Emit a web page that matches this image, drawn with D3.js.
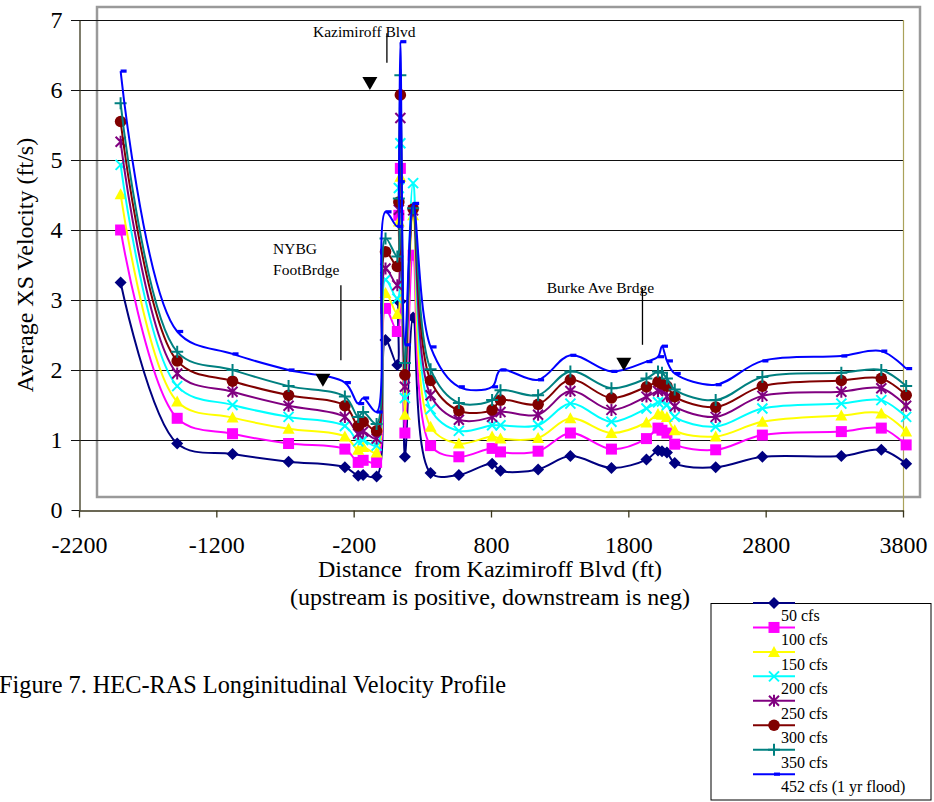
<!DOCTYPE html>
<html>
<head>
<meta charset="utf-8">
<script src="https://cdn.jsdelivr.net/npm/d3@7"></script>
<style>
  body { margin: 0; background: #fff; }
  svg { display: block; font-family: "Liberation Serif", "Times New Roman", serif; }
</style>
</head>
<body>
<svg width="934" height="802"></svg>
<script>
// river stations, ft from Kazimiroff Blvd (upstream positive)
const distance = [-1897, -1485, -1082, -674, -264, -167, -131, -33, 32, 118, 129, 140, 173, 233, 360,
  566, 808, 869, 1143, 1378, 1677, 1932, 2016, 2045, 2081, 2138, 2436, 2776, 3351, 3642, 3823];

const v50  = [3.25, 0.95, 0.80, 0.69, 0.61, 0.49, 0.50, 0.48, 2.43, 2.07, 2.98, 2.98, 0.76, 2.75, 0.53,
  0.50, 0.66, 0.56, 0.58, 0.77, 0.60, 0.72, 0.85, 0.84, 0.82, 0.67, 0.61, 0.76, 0.77, 0.86, 0.66];
const v100 = [4.00, 1.31, 1.09, 0.95, 0.87, 0.68, 0.71, 0.68, 2.88, 2.55, 4.21, 4.88, 1.10, 3.64, 0.92,
  0.76, 0.88, 0.83, 0.84, 1.10, 0.87, 1.02, 1.17, 1.14, 1.10, 0.94, 0.86, 1.07, 1.12, 1.17, 0.93];
const v150 = [4.51, 1.55, 1.32, 1.16, 1.05, 0.86, 0.90, 0.82, 3.10, 2.80, 4.12, 4.76, 1.36, 4.21, 1.19,
  0.95, 1.05, 1.02, 1.03, 1.31, 1.10, 1.25, 1.37, 1.36, 1.33, 1.14, 1.05, 1.26, 1.35, 1.38, 1.12];
const v200 = [4.93, 1.77, 1.50, 1.33, 1.20, 0.98, 1.00, 0.92, 3.29, 3.02, 4.60, 5.24, 1.60, 4.67, 1.44,
  1.13, 1.21, 1.21, 1.21, 1.52, 1.26, 1.45, 1.54, 1.55, 1.50, 1.33, 1.19, 1.45, 1.52, 1.57, 1.33];
const v250 = [5.26, 1.95, 1.69, 1.49, 1.33, 1.09, 1.12, 1.02, 3.45, 3.21, 4.29, 5.60, 1.76, 4.28, 1.64,
  1.29, 1.33, 1.40, 1.36, 1.70, 1.43, 1.62, 1.70, 1.72, 1.62, 1.48, 1.33, 1.63, 1.69, 1.74, 1.49];
const v300 = [5.55, 2.13, 1.84, 1.64, 1.49, 1.20, 1.26, 1.13, 3.69, 3.48, 4.40, 5.93, 1.93, 4.30, 1.85,
  1.42, 1.43, 1.57, 1.51, 1.86, 1.60, 1.76, 1.83, 1.80, 1.77, 1.62, 1.47, 1.77, 1.85, 1.88, 1.64];
const v350 = [5.81, 2.26, 2.00, 1.77, 1.62, 1.33, 1.40, 1.23, 3.88, 3.62, 4.45, 6.21, 2.10, 4.31, 2.01,
  1.53, 1.57, 1.71, 1.64, 1.98, 1.74, 1.88, 1.98, 1.96, 1.88, 1.72, 1.57, 1.90, 1.96, 2.00, 1.77];
const v452 = [6.27, 2.55, 2.23, 2.00, 1.82, 1.52, 1.60, 1.40, 4.26, 4.05, 4.69, 6.69, 2.36, 4.38, 2.33,
  1.76, 1.76, 2.00, 1.86, 2.21, 1.98, 2.12, 2.19, 2.34, 2.13, 1.95, 1.79, 2.13, 2.20, 2.27, 2.02];

const seriesNames = ["50 cfs", "100 cfs", "150 cfs", "200 cfs", "250 cfs", "300 cfs", "350 cfs", "452 cfs (1 yr flood)"];
const seriesValues = [v50, v100, v150, v200, v250, v300, v350, v452];
const seriesColors = ["#000080", "#ff00ff", "#ffff00", "#00ffff", "#800080", "#800000", "#008080", "#0000ff"];
const seriesMarkers = ["diamond", "square", "triangle", "x", "star", "circle", "plus", "dash"];

const xTicks = [-2200, -1200, -200, 800, 1800, 2800, 3800];
const yTicks = [0, 1, 2, 3, 4, 5, 6, 7];

// bridge annotations: label lines, leader line (ft, ft/s), triangle tip (ft, ft/s)
const bridges = [
  {lines: ["Kazimiroff Blvd"], tx: -496, ty: 6.76, lx: 42, ly0: 6.81, ly1: 6.39, mx: -82, my: 6.0},
  {lines: ["NYBG", "FootBrdge"], tx: -787, ty: 3.66, lx: -293, ly0: 3.21, ly1: 2.14, mx: -424, my: 1.76},
  {lines: ["Burke Ave Brdge"], tx: 1206, ty: 3.1, lx: 1903, ly0: 3.17, ly1: 2.36, mx: 1767, my: 1.99}
];

const svg = d3.select("svg");
const x = d3.scaleLinear().domain([-2200, 3800]).range([79, 903]);
const y = d3.scaleLinear().domain([0, 7]).range([510, 20]);

// chart area frame
svg.append("rect")
  .attr("x", 97).attr("y", 7).attr("width", 823).attr("height", 490)
  .attr("fill", "none").attr("stroke", "#9a9a9a").attr("stroke-width", 2.5);

// gridlines (they also serve as the y ticks)
svg.append("g")
  .selectAll("line")
  .data(yTicks.filter(d => d > 0))
  .join("line")
  .attr("x1", 71).attr("x2", x(3800))
  .attr("y1", d => Math.round(y(d)) + 0.5).attr("y2", d => Math.round(y(d)) + 0.5)
  .attr("stroke", "#111").attr("stroke-width", 1);

// right border of plot area
svg.append("line")
  .attr("x1", x(3800) + 0.5).attr("x2", x(3800) + 0.5)
  .attr("y1", y(7)).attr("y2", y(0) + 2)
  .attr("stroke", "#aaa25a").attr("stroke-width", 1.2);

// axes
const xAxis = svg.append("g")
  .attr("transform", `translate(0,${y(0) + 0.5})`)
  .call(d3.axisBottom(x).tickValues(xTicks).tickSize(7).tickSizeOuter(0));
xAxis.select(".domain").attr("stroke", "#3a361c").attr("stroke-width", 1.3);
xAxis.selectAll(".tick line").attr("stroke", "#3a361c").attr("stroke-width", 1.3);
xAxis.selectAll(".tick text")
  .attr("y", 42).attr("dy", null)
  .attr("font-size", 24).attr("font-family", "Liberation Serif, serif").attr("fill", "#000")
  .text(d => d < 0 ? "-" + Math.abs(d) : d);

const yAxis = svg.append("g")
  .attr("transform", `translate(${x(-2200) + 0.5},0)`)
  .call(d3.axisLeft(y).tickValues(yTicks).tickSize(8).tickPadding(9).tickSizeOuter(0).tickFormat(d3.format("d")));
yAxis.select(".domain").attr("stroke", "#3a361c").attr("stroke-width", 1.3);
yAxis.selectAll(".tick line").attr("stroke", "#111");
yAxis.selectAll(".tick text")
  .attr("font-size", 24).attr("font-family", "Liberation Serif, serif").attr("fill", "#000");

// axis titles
svg.append("text")
  .attr("transform", "translate(33,265) rotate(-90)")
  .attr("text-anchor", "middle").attr("font-size", 24)
  .text("Average XS Velocity (ft/s)");
svg.append("text")
  .attr("x", 490).attr("y", 577)
  .attr("text-anchor", "middle").attr("font-size", 24)
  .style("white-space", "pre")
  .text("Distance  from Kazimiroff Blvd (ft)");
svg.append("text")
  .attr("x", 490).attr("y", 605)
  .attr("text-anchor", "middle").attr("font-size", 24)
  .text("(upstream is positive, downstream is neg)");

// figure caption
svg.append("text")
  .attr("x", -1).attr("y", 693)
  .attr("font-size", 24.3)
  .text("Figure 7. HEC-RAS Longinitudinal Velocity Profile");

// markers
function drawMarker(sel, type, color) {
  if (type === "diamond") {
    sel.append("path").attr("d", "M0,-6L6,0L0,6L-6,0Z").attr("fill", color);
  } else if (type === "square") {
    sel.append("rect").attr("x", -5.5).attr("y", -5.5).attr("width", 11).attr("height", 11).attr("fill", color);
  } else if (type === "triangle") {
    sel.append("path").attr("d", "M0,-6L6,5L-6,5Z").attr("fill", color);
  } else if (type === "x") {
    sel.append("path").attr("d", "M-5,-5L5,5M-5,5L5,-5").attr("stroke", color).attr("stroke-width", 2);
  } else if (type === "star") {
    sel.append("path").attr("d", "M-5,-5L5,5M-5,5L5,-5M0,-6L0,6").attr("stroke", color).attr("stroke-width", 2);
  } else if (type === "circle") {
    sel.append("circle").attr("r", 5.8).attr("fill", color);
  } else if (type === "plus") {
    sel.append("path").attr("d", "M-6,0L6,0M0,-6L0,6").attr("stroke", color).attr("stroke-width", 2);
  } else if (type === "dash") {
    sel.append("rect").attr("x", 0).attr("y", -1.6).attr("width", 6).attr("height", 3.2).attr("fill", color);
  }
}

const line = d3.line()
  .x(d => x(d[0]))
  .y(d => y(d[1]))
  .curve(d3.curveCatmullRom.alpha(0.5));

seriesValues.forEach((vals, s) => {
  const pts = distance.map((d, i) => [d, vals[i]]);
  const g = svg.append("g");
  g.append("path")
    .attr("d", line(pts))
    .attr("fill", "none")
    .attr("stroke", seriesColors[s])
    .attr("stroke-width", 2);
  g.selectAll("g")
    .data(pts)
    .join("g")
    .attr("transform", d => `translate(${x(d[0])},${y(d[1])})`)
    .each(function() { drawMarker(d3.select(this), seriesMarkers[s], seriesColors[s]); });
});

// bridge annotations
bridges.forEach(b => {
  const t = svg.append("text")
    .attr("x", x(b.tx)).attr("y", y(b.ty))
    .attr("font-size", 15.5);
  b.lines.forEach((l, i) => {
    t.append("tspan").attr("x", x(b.tx)).attr("dy", i === 0 ? 0 : 21).text(l);
  });
  svg.append("line")
    .attr("x1", x(b.lx)).attr("x2", x(b.lx))
    .attr("y1", y(b.ly0)).attr("y2", y(b.ly1))
    .attr("stroke", "#000").attr("stroke-width", 1.3);
  const mx = x(b.mx), my = y(b.my);
  svg.append("path")
    .attr("d", `M${mx - 7.5},${my - 13}L${mx + 7.5},${my - 13}L${mx},${my}Z`)
    .attr("fill", "#000");
});

// legend
const legend = svg.append("g");
legend.append("rect")
  .attr("x", 711).attr("y", 603.5).attr("width", 220).attr("height", 196.5)
  .attr("fill", "#fff").attr("stroke", "#000").attr("stroke-width", 1);
seriesNames.forEach((name, i) => {
  const ly = 603 + i * 24.45;
  const e = legend.append("g");
  e.append("line")
    .attr("x1", 753).attr("x2", 795).attr("y1", ly).attr("y2", ly)
    .attr("stroke", seriesColors[i]).attr("stroke-width", 2);
  const m = e.append("g").attr("transform", `translate(774,${ly})`);
  drawMarker(m, seriesMarkers[i], seriesColors[i]);
  e.append("text")
    .attr("x", 781).attr("y", ly + 18)
    .attr("font-size", 16)
    .text(name);
});
</script>
</body>
</html>
